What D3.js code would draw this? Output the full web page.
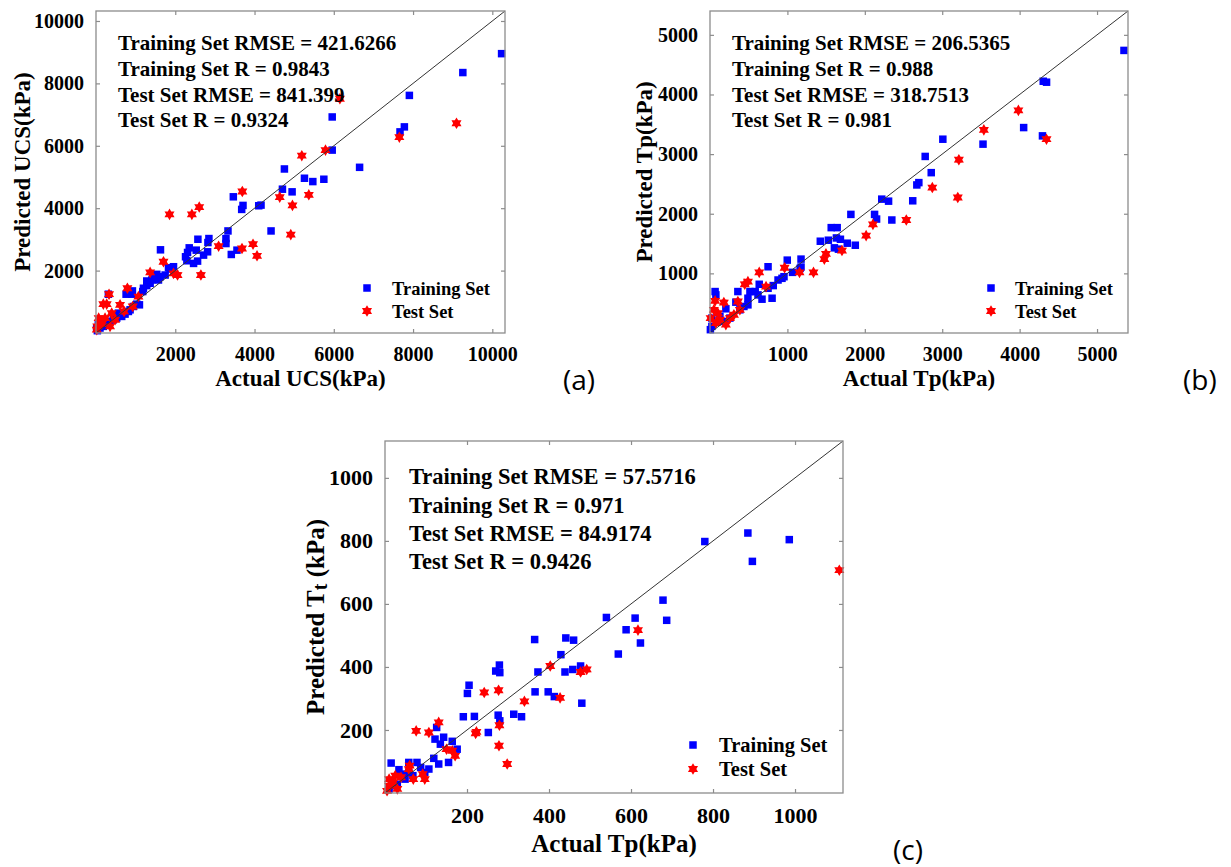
<!DOCTYPE html>
<html><head><meta charset="utf-8">
<script src="https://cdn.jsdelivr.net/npm/d3@7"></script>
<style>
body{margin:0;background:#fff}
svg{display:block}
text{font-family:"Liberation Serif","Times New Roman",serif;font-weight:bold;fill:#000}
text.plab{font-family:"Open Sans","Noto Sans",sans-serif;font-weight:normal}
</style>
</head><body>
<svg id="fig" width="1231" height="867"></svg>
<script>
// ---------------- DATA ----------------
const ucsTrain = [[10234,8953],[9256,8347],[7907,7615],[7781,6606],[7671,6446],[5960,6924],[5960,5862],[6651,5310],[5749,4928],[5471,4853],[5260,4960],[4754,5257],[4704,4609],[4948,4524],[4417,3271],[4106,4078],[4164,4099],[3465,4365],[3709,4089],[3676,3961],[3330,3271],[3279,3027],[3279,2867],[3414,2517],[3557,2655],[2849,3027],[2824,2899],[2571,3005],[2816,2602],[2714,2496],[2563,2304],[2462,2230],[2529,2655],[2352,2729],[2310,2581],[2259,2443],[2293,2315],[1627,2666],[1956,2124],[1829,2092],[1745,1858],[1534,1880],[1450,1752],[1576,1699],[1281,1667],[1281,1519],[1197,1434],[1180,1328],[902,1243],[759,1243],[919,1349],[1096,903],[1028,924],[733,605],[860,743],[565,637],[312,1243],[523,478],[438,425],[354,372],[270,319],[185,212],[101,159],[34,74],[17,159],[143,372],[59,265],[1366,1593],[1408,1699],[1871,2050],[1619,1805],[649,531],[818,690],[944,850],[481,531]];
const ucsTest = [[6154,7508],[9096,6722],[7654,6276],[5791,5862],[5193,5682],[3692,4535],[4636,4354],[5370,4429],[4957,4089],[2605,4036],[2419,3802],[1855,3802],[4915,3154],[3962,2846],[3094,2782],[3684,2708],[4063,2474],[1703,2283],[1366,1943],[1956,1912],[2057,1858],[2647,1858],[792,1434],[329,1243],[185,924],[270,924],[607,903],[927,850],[1070,1168],[708,690],[396,637],[228,478],[101,372],[34,212],[143,287],[481,425],[20,106],[67,478],[354,212]];
const tpTrain = [[5348,4739],[4305,4222],[4348,4206],[4052,3445],[4295,3306],[3008,3250],[3527,3167],[2780,2961],[2858,2689],[2698,2522],[2672,2483],[2219,2245],[2307,2211],[2619,2217],[1820,1989],[2126,1989],[2152,1911],[2349,1895],[1566,1767],[1643,1767],[1633,1594],[1529,1556],[1425,1539],[1685,1572],[1773,1506],[1877,1472],[1607,1428],[1659,1406],[1176,1239],[1176,1106],[998,1222],[930,917],[879,889],[750,1111],[817,795],[750,750],[1066,1017],[636,817],[584,695],[672,567],[516,695],[490,583],[360,695],[334,517],[438,445],[205,406],[76,639],[66,695],[128,278],[24,250],[179,194],[24,111],[5,56],[257,250],[386,389],[490,472],[620,639],[956,944],[1164,1083],[802,583]];
const tpTest = [[3984,3734],[3538,3406],[4347,3250],[3215,2906],[2872,2439],[3201,2272],[2536,1895],[2105,1822],[2017,1633],[1705,1383],[1498,1328],[1477,1239],[1337,1017],[1156,1017],[964,1094],[636,1017],[490,861],[449,817],[724,778],[360,528],[179,511],[66,539],[50,389],[8,250],[102,333],[128,222],[257,250],[205,139],[309,306],[386,389],[76,167]];
const ttTrain = [[986,804],[885,825],[896,735],[780,798],[678,612],[687,548],[540,557],[610,555],[588,518],[623,476],[569,441],[365,487],[441,492],[460,485],[429,439],[439,384],[458,392],[477,403],[480,285],[373,384],[366,321],[398,321],[413,306],[279,406],[270,387],[280,382],[205,342],[201,316],[276,247],[280,229],[314,250],[333,242],[218,243],[191,242],[252,192],[126,208],[122,171],[143,177],[164,164],[176,139],[135,155],[119,110],[131,92],[155,97],[15,95],[34,74],[58,65],[58,97],[78,97],[87,81],[49,44],[30,28],[10,13],[68,55],[97,65],[107,76],[44,60],[20,23]];
const ttTest = [[1108,707],[617,517],[403,403],[477,384],[492,392],[427,302],[340,291],[277,326],[242,319],[221,189],[223,194],[279,215],[278,150],[298,92],[76,197],[107,192],[131,224],[150,139],[164,134],[171,118],[60,87],[92,60],[69,44],[25,55],[10,44],[20,34],[39,50],[10,23],[30,13],[58,76],[97,44],[5,7]];

const ticksA = [2000,4000,6000,8000,10000];
const ticksB = [1000,2000,3000,4000,5000];
const ticksC = [200,400,600,800,1000];
const maxA = 10320, maxB = 5400, maxC = 1117;

const statsA = ["Training Set RMSE = 421.6266","Training Set R = 0.9843","Test Set RMSE = 841.399","Test Set R = 0.9324"];
const statsB = ["Training Set RMSE = 206.5365","Training Set R = 0.988","Test Set RMSE = 318.7513","Test Set R = 0.981"];
const statsC = ["Training Set RMSE = 57.5716","Training Set R = 0.971","Test Set RMSE = 84.9174","Test Set R = 0.9426"];
const legendLabels = ["Training Set","Test Set"];

// ---------------- LAYOUT ----------------
const panels = [
  {train:ucsTrain,test:ucsTest,ticks:ticksA,max:maxA,stats:statsA,
   x0:96,y0:11,w:409,h:322,tickFs:20,labFs:23,statFs:21,legFs:18.5,xtickBase:361,
   statX:118,statY:[50,76,102,127],legMX:367,legTX:392,legY:[295,318],
   xlab:"Actual UCS(kPa)",ylab:["Predicted UCS(kPa)"],xlabY:386,ylabX:30,
   plab:"(a)",plabX:563,plabY:390},
  {train:tpTrain,test:tpTest,ticks:ticksB,max:maxB,stats:statsB,
   x0:710,y0:11,w:418,h:322,tickFs:20,labFs:23,statFs:21,legFs:18.5,xtickBase:361,
   statX:732,statY:[50,76,102,127],legMX:991,legTX:1015,legY:[295,318],
   xlab:"Actual Tp(kPa)",ylab:["Predicted Tp(kPa)"],xlabY:386,ylabX:652,
   plab:"(b)",plabX:1183,plabY:390},
  {train:ttTrain,test:ttTest,ticks:ticksC,max:maxC,stats:statsC,
   x0:385,y0:441,w:458,h:352,tickFs:22,labFs:25,statFs:22.5,legFs:20.5,xtickBase:823,
   statX:409,statY:[484,512.5,541,569],legMX:693,legTX:719,legY:[752,776],
   xlab:"Actual Tp(kPa)",ylab:["Predicted T","t"," (kPa)"],xlabY:852,ylabX:324,
   plab:"(c)",plabX:893,plabY:860}
];

function hexagram(r){
  const pts=[];
  for(let i=0;i<12;i++){
    const a=-Math.PI/2+i*Math.PI/6;
    const rr=(i%2===0)?r:r*0.58;
    pts.push([rr*Math.cos(a),rr*Math.sin(a)]);
  }
  return "M"+pts.map(p=>p[0].toFixed(2)+","+p[1].toFixed(2)).join("L")+"Z";
}

const svg = d3.select("#fig");
const axisCol = "#8c8c8c";
const SQ = 7.5, STAR = 5.8;
const serif = '"Liberation Serif","Times New Roman",serif';

panels.forEach(p=>{
  const x = d3.scaleLinear().domain([0,p.max]).range([p.x0,p.x0+p.w]);
  const y = d3.scaleLinear().domain([0,p.max]).range([p.y0+p.h,p.y0]);
  const g = svg.append("g");

  // points
  g.append("g").selectAll("rect").data(p.train).join("rect")
    .attr("x",d=>x(d[0])-SQ/2).attr("y",d=>y(d[1])-SQ/2)
    .attr("width",SQ).attr("height",SQ).attr("fill","#0000ff");
  g.append("g").selectAll("path").data(p.test).join("path")
    .attr("d",hexagram(STAR))
    .attr("transform",d=>`translate(${x(d[0])},${y(d[1])})`)
    .attr("fill","#ff0000");

  // diagonal
  g.append("line").attr("x1",x(0)).attr("y1",y(0)).attr("x2",x(p.max)).attr("y2",y(p.max))
    .attr("stroke","#333").attr("stroke-width",1);

  // axes (ticks inward on all four sides)
  const tl = 4, fmt = d3.format("d");
  const bottom = g.append("g").attr("transform",`translate(0,${p.y0+p.h})`)
    .call(d3.axisBottom(x).tickValues(p.ticks).tickFormat(fmt).tickSizeInner(-tl).tickSizeOuter(0));
  const top = g.append("g").attr("transform",`translate(0,${p.y0})`)
    .call(d3.axisTop(x).tickValues(p.ticks).tickSizeInner(-tl).tickSizeOuter(0).tickFormat(""));
  const left = g.append("g").attr("transform",`translate(${p.x0},0)`)
    .call(d3.axisLeft(y).tickValues(p.ticks).tickFormat(fmt).tickSizeInner(-tl).tickSizeOuter(0).tickPadding(tl+8));
  const right = g.append("g").attr("transform",`translate(${p.x0+p.w},0)`)
    .call(d3.axisRight(y).tickValues(p.ticks).tickSizeInner(-tl).tickSizeOuter(0).tickFormat(""));
  [bottom,top,left,right].forEach(a=>{
    a.attr("font-family",serif).attr("font-size",p.tickFs);
    a.select(".domain").remove();
    a.selectAll(".tick line").attr("stroke",axisCol).attr("stroke-width",1.2);
    a.selectAll(".tick text").style("font-family",serif).style("font-weight","bold")
      .style("font-size",p.tickFs+"px").attr("fill","#000");
  });
  bottom.selectAll(".tick text").attr("dy",0).attr("y",p.xtickBase-(p.y0+p.h));
  g.append("rect").attr("x",p.x0).attr("y",p.y0).attr("width",p.w).attr("height",p.h)
    .attr("fill","none").attr("stroke",axisCol).attr("stroke-width",1.3);

  // axis labels
  g.append("text").attr("x",p.x0+p.w/2).attr("y",p.xlabY).attr("text-anchor","middle")
    .attr("font-size",p.labFs).text(p.xlab);
  const yl = g.append("text").attr("transform",`translate(${p.ylabX},${p.y0+p.h/2}) rotate(-90)`)
    .attr("text-anchor","middle").attr("font-size",p.labFs);
  if(p.ylab.length===1){ yl.text(p.ylab[0]); }
  else {
    yl.append("tspan").text(p.ylab[0]);
    yl.append("tspan").attr("font-size",p.labFs*0.8).attr("dy",3).text(p.ylab[1]);
    yl.append("tspan").attr("dy",-3).text(p.ylab[2]);
  }

  // stats
  g.append("g").selectAll("text").data(p.stats).join("text")
    .attr("x",p.statX).attr("y",(d,i)=>p.statY[i]).attr("font-size",p.statFs).text(d=>d);

  // legend
  g.append("rect").attr("x",p.legMX-SQ/2).attr("y",p.legY[0]-7-SQ/2).attr("width",SQ).attr("height",SQ).attr("fill","#0000ff");
  g.append("path").attr("d",hexagram(STAR)).attr("transform",`translate(${p.legMX},${p.legY[1]-7})`).attr("fill","#ff0000");
  g.append("g").selectAll("text").data(legendLabels).join("text")
    .attr("x",p.legTX).attr("y",(d,i)=>p.legY[i]).attr("font-size",p.legFs).text(d=>d);

  // panel letter
  g.append("text").attr("class","plab").attr("x",p.plabX).attr("y",p.plabY).attr("font-size",28).text(p.plab);
});
</script>
</body></html>
